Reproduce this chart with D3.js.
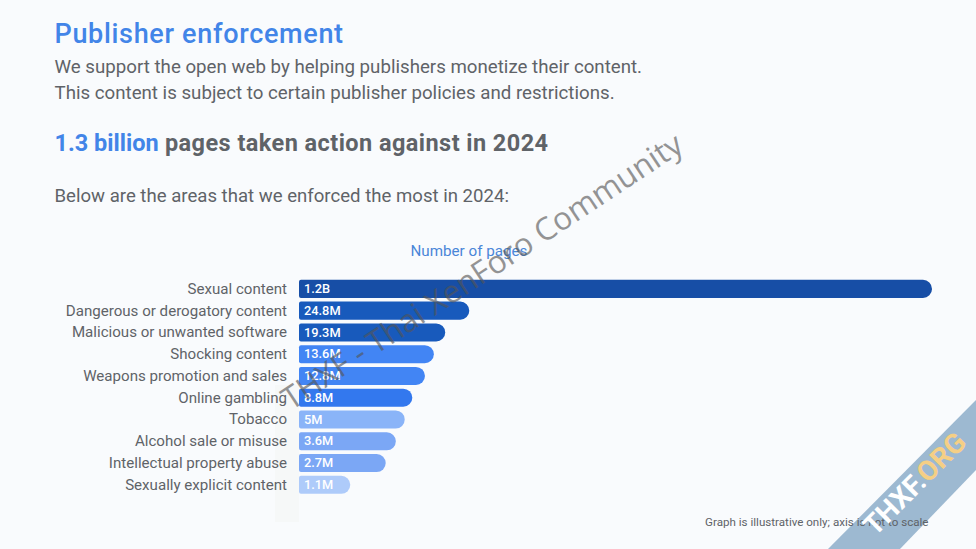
<!DOCTYPE html>
<html>
<head>
<meta charset="utf-8">
<script src="https://cdn.jsdelivr.net/npm/d3@7/dist/d3.min.js"></script>
<style>
html,body{margin:0;padding:0;background:#f9fbfd;overflow:hidden}
svg{display:block}
text{font-family:Roboto,sans-serif}
</style>
</head>
<body>
<svg id="chart" width="976" height="549"></svg>
<script>
const categories = ["Sexual content","Dangerous or derogatory content","Malicious or unwanted software","Shocking content","Weapons promotion and sales","Online gambling","Tobacco","Alcohol sale or misuse","Intellectual property abuse","Sexually explicit content"];
const valueLabels = ["1.2B","24.8M","19.3M","13.6M","12.8M","8.8M","5M","3.6M","2.7M","1.1M"];
// The reference's axis is illustrative, not to scale: bar length as a share of the full axis
const illustrativeLength = [100,26.9,23.1,21.3,19.9,17.9,16.7,15.3,13.7,8.1];
const shadeGroup = ["a","b","b","c","c","d","e","f","f","g"];

const svg = d3.select("#chart");
const x = d3.scaleLinear().domain([0,100]).range([299,932]);
const y = d3.scaleBand().domain(categories).range([279.2,494.5]).paddingInner(0.17).paddingOuter(0.03);
const shade = d3.scaleOrdinal().domain(["a","b","c","d","e","f","g"])
  .range(["#174ea6","#185abc","#4285f4","#3378ee","#8ab4f8","#7ba7f5","#aecbfa"]);

// Headings
svg.append("text").attr("x",54.5).attr("y",42.5).attr("font-size",27).attr("font-weight",500).attr("letter-spacing",0.68).attr("fill","#4285e8").text("Publisher enforcement");
const bodyC="#5f6368";
svg.append("text").attr("x",54.5).attr("y",73).attr("font-size",18.7).attr("fill",bodyC).text("We support the open web by helping publishers monetize their content.");
svg.append("text").attr("x",54.5).attr("y",99).attr("font-size",18.7).attr("fill",bodyC).text("This content is subject to certain publisher policies and restrictions.");
const sub = svg.append("text").attr("x",54.5).attr("y",151).attr("font-size",23.5).attr("font-weight",700).attr("fill",bodyC);
sub.append("tspan").attr("fill","#4285e8").text("1.3 billion");
sub.append("tspan").attr("letter-spacing",0.44).text(" pages taken action against in 2024");
svg.append("text").attr("x",54.5).attr("y",202).attr("font-size",18.6).attr("fill",bodyC).text("Below are the areas that we enforced the most in 2024:");
svg.append("text").attr("x",469).attr("y",256).attr("text-anchor","middle").attr("font-size",15.2).attr("fill","#4a86d8").text("Number of pages");

// Faint patch
svg.append("rect").attr("x",275).attr("y",385).attr("width",24).attr("height",137).attr("fill","#f6f8f8");

// Bars: flat left with a small radius, fully rounded right
function barPath(x0,x1,y0,h){
  const r=h/2, l=2, p=d3.path();
  p.moveTo(x0+l,y0); p.lineTo(x1-r,y0); p.arc(x1-r,y0+r,r,-Math.PI/2,Math.PI/2);
  p.lineTo(x0+l,y0+h); p.arc(x0+l,y0+h-l,l,Math.PI/2,Math.PI);
  p.lineTo(x0,y0+l); p.arc(x0+l,y0+l,l,Math.PI,1.5*Math.PI); p.closePath();
  return p.toString();
}
svg.append("g").selectAll("path").data(categories).join("path")
  .attr("d",(c,i)=>barPath(x(0),x(illustrativeLength[i]),y(c),y.bandwidth()))
  .attr("fill",(c,i)=>shade(shadeGroup[i]));
svg.append("g").selectAll("text").data(categories).join("text")
  .attr("x",x(0)+5).attr("y",c=>y(c)+y.bandwidth()/2).attr("dy","0.33em")
  .attr("font-size",12.8).attr("font-weight",500).attr("fill","#fff")
  .text((c,i)=>valueLabels[i]);
const axis = d3.axisLeft(y).tickSize(0).tickPadding(12);
const ag = svg.append("g").attr("transform",`translate(${x(0)},0)`).call(axis);
ag.select(".domain").remove();
ag.selectAll("text").attr("font-size",15.1).attr("fill",bodyC).style("font-family","Roboto,sans-serif");

// Watermark
svg.append("text").attr("transform","translate(291,411) rotate(-33.5)").attr("font-size",31.5).style("font-family","'Open Sans',sans-serif").attr("fill","#555").attr("opacity",0.62).text("THXF - Thai XenForo Community");

// Corner ribbon
svg.append("polygon").attr("points","976,400 976,470 900,549 828,549").attr("fill","#9db9d1");

// Footnote stays readable across the ribbon
svg.append("text").attr("x",928.5).attr("y",525.5).attr("text-anchor","end").attr("font-size",11.6).attr("fill",bodyC).text("Graph is illustrative only; axis is not to scale");

const rib = svg.append("text").attr("transform","translate(875,537) rotate(-45)").attr("font-size",28).attr("font-weight",700);
rib.append("tspan").attr("fill","#fff").text("THXF.");
rib.append("tspan").attr("fill","#f5cf85").text("ORG");
</script>
</body>
</html>
